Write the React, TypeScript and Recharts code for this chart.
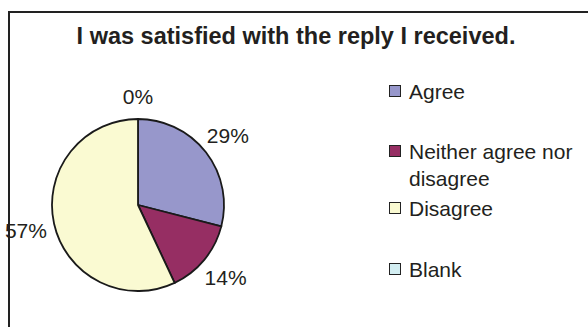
import React from 'react';
import { PieChart, Pie, Cell, Legend } from 'recharts';

const TITLE = 'I was satisfied with the reply I received.';
const categories = ['Agree', 'Neither agree nor disagree', 'Disagree', 'Blank'];
const values = [29, 14, 57, 0];
const colors = ['#9797CB', '#962E63', '#FAFAD2', '#D3EEF2'];

const data = categories.map((name, i) => ({ name, value: values[i] }));

const FONT = '"Liberation Sans", Arial, sans-serif';
const TEXT = '#231F20';
const RAD = Math.PI / 180;

const renderLabel = (props: any) => {
  const { cx, cy, midAngle, outerRadius, value } = props;
  const c = Math.cos(-midAngle * RAD);
  const s = Math.sin(-midAngle * RAD);
  const r = outerRadius + 23 + 6 * Math.abs(c);
  const x = cx + r * c;
  const y = cy + r * s;
  return (
    <text
      x={x}
      y={y}
      fill={TEXT}
      fontSize={21}
      fontFamily={FONT}
      textAnchor="middle"
      dominantBaseline="central"
    >
      {`${value}%`}
    </text>
  );
};

const itemTops = [0, 60, 117, 178];

const renderLegend = () => (
  <div style={{ position: 'relative', width: 195, height: 230, fontFamily: FONT }}>
    {categories.map((name, i) => (
      <div
        key={name}
        style={{
          position: 'absolute',
          left: 0,
          top: itemTops[i],
          display: 'flex',
          alignItems: 'flex-start',
          fontSize: 21,
          lineHeight: '27px',
          color: TEXT,
        }}
      >
        <div
          style={{
            width: 10,
            height: 10,
            marginTop: 7,
            marginRight: 8,
            flex: 'none',
            background: colors[i],
            border: '1.5px solid #222',
          }}
        />
        <div style={{ width: 172 }}>{name}</div>
      </div>
    ))}
  </div>
);

export default function App() {
  return (
    <div
      style={{
        position: 'absolute',
        left: 0,
        top: 0,
        width: 588,
        height: 327,
        overflow: 'hidden',
        background: '#fff',
      }}
    >
      <div
        style={{
          position: 'absolute',
          left: 8,
          top: 11,
          width: 700,
          height: 400,
          border: '2px solid #222',
        }}
      />
      <div
        style={{
          position: 'absolute',
          left: 0,
          width: 588,
          top: 25,
          textAlign: 'center',
          fontFamily: FONT,
          fontWeight: 'bold',
          fontSize: 23.5,
          lineHeight: '23px',
          color: TEXT,
          paddingLeft: 2,
        }}
      >
        {TITLE}
      </div>
      <div style={{ position: 'absolute', left: 0, top: 0 }}>
        <PieChart width={588} height={327} margin={{ top: 0, right: 0, bottom: 0, left: 0 }}>
          <Pie
            data={data}
            dataKey="value"
            nameKey="name"
            cx={138}
            cy={205}
            outerRadius={86}
            startAngle={90}
            endAngle={-270}
            stroke="#1A1A1A"
            strokeWidth={1.8}
            label={renderLabel}
            labelLine={false}
            isAnimationActive={false}
          >
            {data.map((d, i) => (
              <Cell key={d.name} fill={colors[i]} />
            ))}
          </Pie>
          <Legend
            content={renderLegend}
            wrapperStyle={{ position: 'absolute', left: 389, top: 78, width: 195 }}
          />
        </PieChart>
      </div>
    </div>
  );
}
